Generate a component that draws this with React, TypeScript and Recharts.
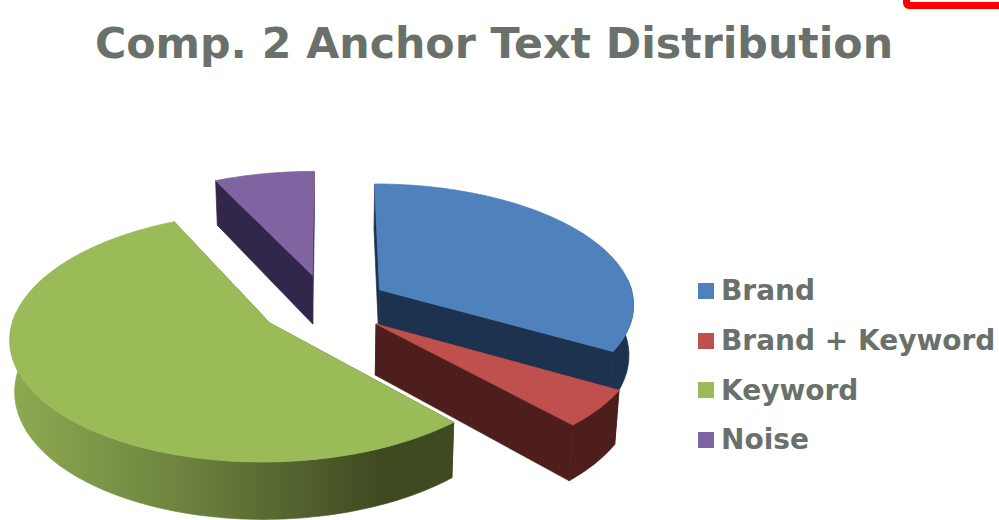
import { Legend, Pie, PieChart } from "recharts";

const CATEGORIES = ["Brand", "Brand + Keyword", "Keyword", "Noise"];
const SHARES = [33.3, 4.9, 54.7, 7.1];

const TOP_COLORS = ["#4F81BD", "#C0504D", "#9BBB59", "#8064A2"];
const WALL_COLORS = ["#1D324E", "#4E1E1D", "url(#keywordWall)", "#32264A"];
// how far each slice is pulled out of the pie, in ground-plane units
const EXPLODE = [
  [50, -22],
  [45, 50],
  [-59, 48],
  [-18, -54],
];
// the original's perspective makes slices differ a little in size
const RIM_SCALE = [0.993, 1, 0.985, 1];

const TEXT_COLOR = "#69716A";
const FONT = "'DejaVu Sans', Verdana, sans-serif";

const CHART_W = 999;
const CHART_H = 520;
const PIE_CX = 330;
const PIE_CY = 300;
const PIE_R = 256;

// camera settings for the fake 3d
const TILT = 0.47;
const PERSPECTIVE = 0.11;
const DEPTH = 50;
const BOTTOM_PINCH = 0.985;

const tableData = CATEGORIES.map((name, i) => ({
  name,
  value: SHARES[i],
  fill: TOP_COLORS[i],
}));

type Pt = [number, number];

function project(u: number, v: number, drop: number): Pt {
  const s = 1 / (1 - (PERSPECTIVE * v) / PIE_R);
  const pinch = drop > 0 ? BOTTOM_PINCH : 1;
  return [
    PIE_CX + u * s * pinch,
    PIE_CY + v * TILT * s + drop * DEPTH * s,
  ];
}

// angle is clockwise from 12 o'clock, degrees
function rimPoint(ox: number, oy: number, r: number, angle: number, drop: number) {
  const a = (angle * Math.PI) / 180;
  return project(ox + r * Math.sin(a), oy - r * Math.cos(a), drop);
}

function toPath(points: Pt[]) {
  return (
    points
      .map((p, i) => `${i ? "L" : "M"}${p[0].toFixed(1)} ${p[1].toFixed(1)}`)
      .join(" ") + " Z"
  );
}

function arcAngles(from: number, to: number) {
  const out: number[] = [];
  for (let a = from; a < to; a += 1) out.push(a);
  out.push(to);
  return out;
}

function Slice3D(props: any) {
  const { startAngle, endAngle, outerRadius, fill, index } = props;
  const from = 90 - startAngle;
  const to = 90 - endAngle;
  const [ox, oy] = EXPLODE[index];
  const wall = WALL_COLORS[index];
  const r = outerRadius * RIM_SCALE[index];

  const top: Pt[] = [
    project(ox, oy, 0),
    ...arcAngles(from, to).map((a) => rimPoint(ox, oy, r, a, 0)),
  ];

  const cut = (angle: number) =>
    toPath([
      project(ox, oy, 0),
      rimPoint(ox, oy, r, angle, 0),
      rimPoint(ox, oy, r, angle, 1),
      project(ox, oy, 1),
    ]);

  const arcFrom = Math.max(from, 85);
  const arcTo = Math.min(to, 275);
  const angles = arcFrom < arcTo ? arcAngles(arcFrom, arcTo) : [];
  const rimWall = angles.length
    ? toPath([
        ...angles.map((a) => rimPoint(ox, oy, r, a, 0)),
        ...[...angles].reverse().map((a) => rimPoint(ox, oy, r, a, 1)),
      ])
    : null;

  // thin stroke on the walls hides the seams between the wall pieces,
  // the top gets its own colour so no wall colour peeks out round it
  return (
    <g stroke={wall} strokeWidth={0.7}>
      <path d={cut(from)} fill={wall} />
      <path d={cut(to)} fill={wall} />
      {rimWall && <path d={rimWall} fill={wall} />}
      <path d={toPath(top)} fill={fill} stroke={fill} strokeWidth={0.8} />
    </g>
  );
}

function LegendList({ payload }: any) {
  return (
    <div>
      {(payload ?? []).map((entry: any) => (
        <div
          key={entry.value}
          style={{
            display: "flex",
            alignItems: "center",
            height: 49.7,
            fontFamily: FONT,
            fontWeight: 700,
            fontSize: 28,
            color: TEXT_COLOR,
            whiteSpace: "nowrap",
          }}
        >
          <span
            style={{
              width: 16,
              height: 16,
              marginRight: 7,
              background: entry.color,
            }}
          />
          {entry.value}
        </div>
      ))}
    </div>
  );
}

export default function App() {
  return (
    <div
      style={{
        position: "absolute",
        left: 0,
        top: 0,
        width: CHART_W,
        height: CHART_H,
        overflow: "hidden",
        background: "#fff",
      }}
    >
      <PieChart
        width={CHART_W}
        height={CHART_H}
        margin={{ top: 0, right: 0, bottom: 0, left: 0 }}
      >
        <defs>
          <linearGradient
            id="keywordWall"
            gradientUnits="userSpaceOnUse"
            x1="15"
            y1="0"
            x2="380"
            y2="0"
          >
            <stop offset="0%" stopColor="#8DA950" />
            <stop offset="50%" stopColor="#6A7F3D" />
            <stop offset="100%" stopColor="#3F4A21" />
          </linearGradient>
        </defs>
        <text
          x={494}
          y={58}
          textAnchor="middle"
          fontFamily={FONT}
          fontWeight={700}
          fontSize={42.7}
          fill={TEXT_COLOR}
        >
          Comp. 2 Anchor Text Distribution
        </text>
        <Pie
          data={tableData}
          dataKey="value"
          nameKey="name"
          cx={PIE_CX}
          cy={PIE_CY}
          outerRadius={PIE_R}
          startAngle={90}
          endAngle={-270}
          stroke="none"
          shape={Slice3D}
          isAnimationActive={false}
        />
        <Legend
          content={<LegendList />}
          layout="vertical"
          wrapperStyle={{ position: "absolute", left: 698, top: 266, width: 301 }}
        />
      </PieChart>
      {/* stray red box corner at the top right of the original screenshot */}
      <div
        style={{
          position: "absolute",
          left: 903,
          top: -60,
          width: 200,
          height: 68.5,
          boxSizing: "border-box",
          border: "7.5px solid #FF0000",
          borderRadius: 6,
        }}
      />
    </div>
  );
}
